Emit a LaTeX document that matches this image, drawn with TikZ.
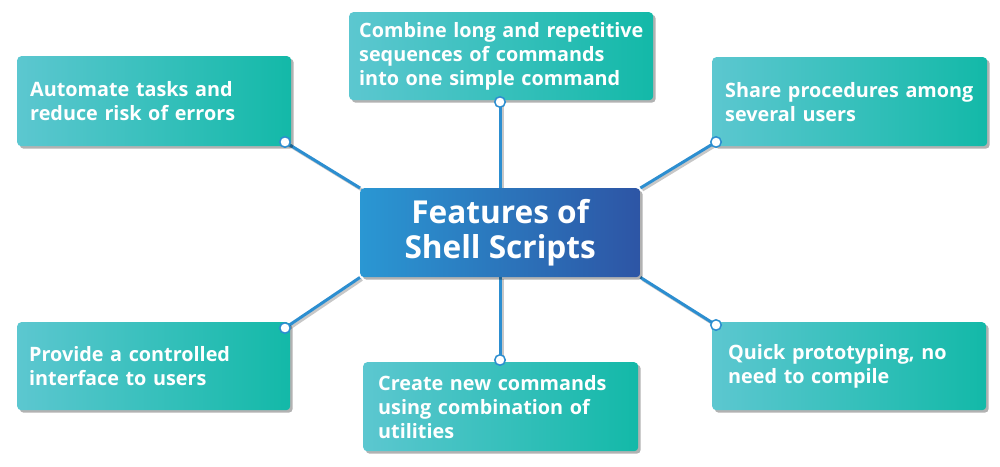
\documentclass[tikz,border=0pt]{standalone}
\usepackage{fontspec}
\setmainfont{Open Sans}
\usetikzlibrary{shadows,backgrounds}
\definecolor{tealL}{HTML}{5CC7D0}
\definecolor{tealR}{HTML}{13B9A8}
\definecolor{hubL}{HTML}{2A97D3}
\definecolor{hubR}{HTML}{2D55A5}
\definecolor{linkblue}{HTML}{2C8ED0}
\begin{document}
\begin{tikzpicture}[x=1pt,y=-1pt,
  card/.style={anchor=north west, rounded corners=4pt,
    left color=tealL, right color=tealR, text=white,
    font=\bfseries\fontsize{19.8}{24}\selectfont, align=left, inner ysep=0pt,
    drop shadow={shadow xshift=2.5pt, shadow yshift=-2.5pt, fill=black, opacity=0.3}},
  hub/.style={anchor=north west, rounded corners=4pt,
    left color=hubL, right color=hubR, text=white,
    font=\bfseries\fontsize{31.6}{35.5}\selectfont, align=center, inner sep=0pt,
    minimum width=280pt, minimum height=89pt,
    drop shadow={shadow xshift=2.5pt, shadow yshift=-2.5pt, fill=black, opacity=0.3}},
  link/.style={draw=linkblue, line width=3pt},
  linkshadow/.style={draw=black, opacity=0.22, line width=3pt},
  knob/.style={circle, draw=linkblue, fill=white, line width=1.5pt, minimum size=10.5pt, inner sep=0pt}
]
\useasboundingbox (0,0) rectangle (1000,466);

% central topic
\node[hub] (hub) at (360,188) {Features of\\Shell Scripts};

% surrounding feature cards
\node[card, minimum height=90pt, text width=248pt, inner xsep=13pt] (auto) at (17,56)
  {Automate tasks and\\reduce risk of errors};
\node[card, minimum height=88pt, text width=284pt, inner xsep=10pt] (comb) at (349,12)
  {\mbox{Combine long and repetitive}\\\mbox{sequences of commands}\\\mbox{into one simple command}};
\node[card, minimum height=89pt, text width=249pt, inner xsep=13pt] (share) at (712,57)
  {Share procedures among\\several users};
\node[card, minimum height=88pt, text width=249pt, inner xsep=12pt] (prov) at (17,322)
  {Provide a controlled\\interface to users};
\node[card, minimum height=89pt, text width=245pt, inner xsep=15pt] (crea) at (363,362)
  {Create new commands\\using combination of\\utilities};
\node[card, minimum height=88pt, text width=242pt, inner xsep=16pt] (quick) at (712,322)
  {Quick prototyping, no\\need to compile};

% connector end points
\node[knob] (kauto) at (285,142) {};
\node[knob] (kcomb) at (500,102) {};
\node[knob] (kshare) at (716,142) {};
\node[knob] (kprov) at (285,328) {};
\node[knob] (kcrea) at (500,360) {};
\node[knob] (kquick) at (716,325) {};

% connectors, behind the cards
\begin{pgfonlayer}{background}
  \begin{scope}[transform canvas={shift={(2pt,-2pt)}}]
    \draw[linkshadow] (kauto.center) -- (hub.north west);
    \draw[linkshadow] (kcomb.center) -- (kcomb.center |- hub.north);
    \draw[linkshadow] (kshare.center) -- (hub.north east);
    \draw[linkshadow] (kprov.center) -- (hub.south west);
    \draw[linkshadow] (kcrea.center) -- (kcrea.center |- hub.south);
    \draw[linkshadow] (kquick.center) -- (hub.south east);
  \end{scope}
  \draw[link] (kauto.center) -- (hub.north west);
  \draw[link] (kcomb.center) -- (kcomb.center |- hub.north);
  \draw[link] (kshare.center) -- (hub.north east);
  \draw[link] (kprov.center) -- (hub.south west);
  \draw[link] (kcrea.center) -- (kcrea.center |- hub.south);
  \draw[link] (kquick.center) -- (hub.south east);
\end{pgfonlayer}
\end{tikzpicture}
\end{document}
